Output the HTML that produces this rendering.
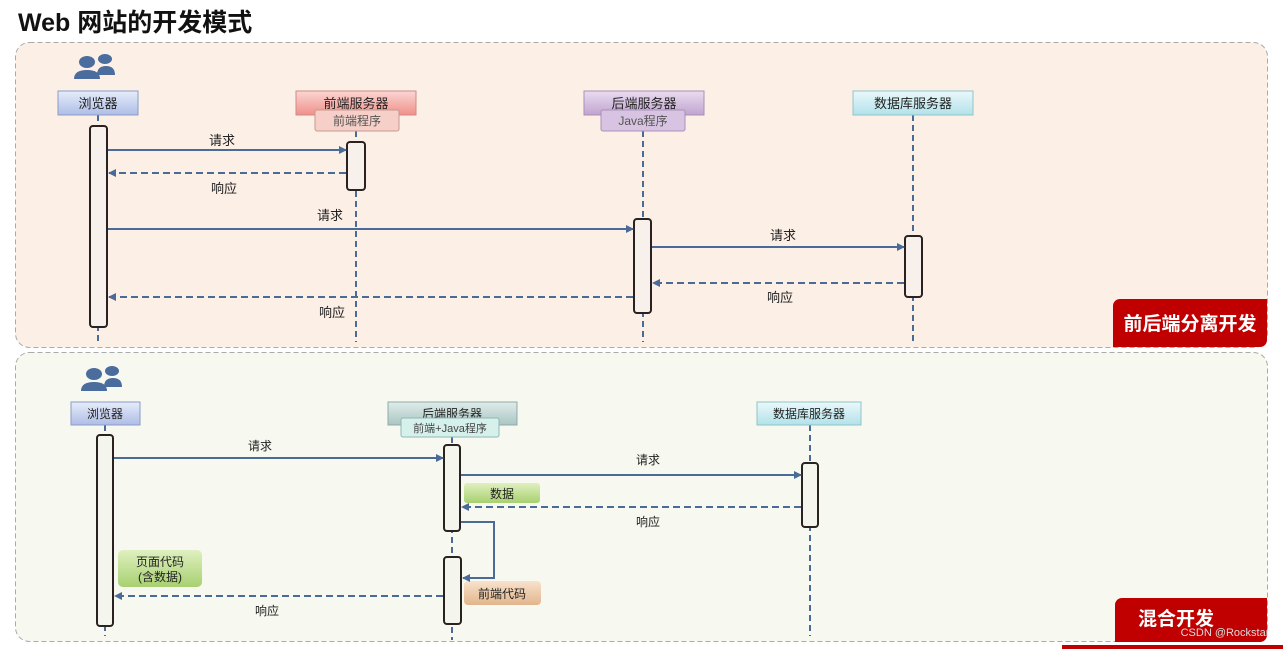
<!DOCTYPE html>
<html><head><meta charset="utf-8"><style>
html,body{margin:0;padding:0;background:#fff;}
svg{display:block;}
text{font-family:"Liberation Sans","Noto Sans CJK SC",sans-serif;fill:#222;}
</style></head><body>
<svg width="1283" height="649" viewBox="0 0 1283 649" xmlns="http://www.w3.org/2000/svg">
<defs>
<marker id="ah" markerWidth="8" markerHeight="8" refX="7" refY="4" orient="auto" markerUnits="userSpaceOnUse"><path d="M0,0 L8,4 L0,8 z" fill="#4a6a98"/></marker>
<linearGradient id="gb" x1="0" y1="0" x2="0" y2="1"><stop offset="0" stop-color="#e6ecfa"/><stop offset="1" stop-color="#aebde6"/></linearGradient>
<linearGradient id="gp" x1="0" y1="0" x2="0" y2="1"><stop offset="0" stop-color="#fbd6d3"/><stop offset="1" stop-color="#f0908a"/></linearGradient>
<linearGradient id="gv" x1="0" y1="0" x2="0" y2="1"><stop offset="0" stop-color="#eadcf0"/><stop offset="1" stop-color="#c0a4cf"/></linearGradient>
<linearGradient id="gc" x1="0" y1="0" x2="0" y2="1"><stop offset="0" stop-color="#eaf8fa"/><stop offset="1" stop-color="#b2e2ea"/></linearGradient>
<linearGradient id="gt" x1="0" y1="0" x2="0" y2="1"><stop offset="0" stop-color="#dfece9"/><stop offset="1" stop-color="#a9c6c3"/></linearGradient>
<linearGradient id="gg" x1="0" y1="0" x2="0" y2="1"><stop offset="0" stop-color="#dff0c0"/><stop offset="1" stop-color="#a8d070"/></linearGradient>
<linearGradient id="go" x1="0" y1="0" x2="0" y2="1"><stop offset="0" stop-color="#f8e2cc"/><stop offset="1" stop-color="#e2b58c"/></linearGradient>
<g id="ppl" fill="#4a6d9e"><ellipse cx="-9" cy="-6" rx="8" ry="6"/><path d="M-22,11 Q-22,2 -9,2 Q4,2 4,11 Z"/><ellipse cx="9" cy="-9" rx="7" ry="5"/><path d="M1,7 Q1,-2 10,-2 Q19,-2 19,7 Z"/></g>
</defs>
<text x="18" y="31" font-size="25" font-weight="bold" style="fill:#111">Web 网站的开发模式</text>
<rect x="15.5" y="42.5" width="1252" height="305" rx="14" fill="#fcefe6" stroke="#aaa" stroke-dasharray="5,3"/>
<rect x="15.5" y="352.5" width="1252" height="289" rx="14" fill="#f7f8ef" stroke="#aaa" stroke-dasharray="5,3"/>
<path d="M1113,347 V306 a7,7 0 0 1 7,-7 H1267 V340 a7,7 0 0 1 -7,7 Z" fill="#c00000"/>
<text x="1190" y="330" font-size="19" font-weight="bold" text-anchor="middle" style="fill:#fff">前后端分离开发</text>
<path d="M1115,642 V605 a7,7 0 0 1 7,-7 H1267 V635 a7,7 0 0 1 -7,7 Z" fill="#c00000"/>
<text x="1176" y="625" font-size="19" font-weight="bold" text-anchor="middle" style="fill:#fff">混合开发</text>
<rect x="1062" y="645" width="221" height="4" fill="#c00000"/>
<text x="1225" y="636" font-size="11" text-anchor="middle" style="fill:#ddd">CSDN @Rockstar</text>

<use href="#ppl" x="96" y="68"/>
<g stroke="#4a6a98" stroke-width="2" stroke-dasharray="6,4">
<line x1="98" y1="115" x2="98" y2="342"/><line x1="356" y1="131" x2="356" y2="342"/>
<line x1="643" y1="131" x2="643" y2="342"/><line x1="913" y1="115" x2="913" y2="342"/>
</g>
<rect x="58" y="91" width="80" height="24" fill="url(#gb)" stroke="#8a9cc8"/>
<text x="98" y="108" font-size="13" text-anchor="middle">浏览器</text>
<rect x="296" y="91" width="120" height="24" fill="url(#gp)" stroke="#d08a86"/>
<text x="356" y="108" font-size="13" text-anchor="middle">前端服务器</text>
<rect x="315" y="110" width="84" height="21" rx="2" fill="#f6d0c8" stroke="#c89890"/>
<text x="357" y="125" font-size="12" text-anchor="middle" style="fill:#555">前端程序</text>
<rect x="584" y="91" width="120" height="24" fill="url(#gv)" stroke="#a890b8"/>
<text x="644" y="108" font-size="13" text-anchor="middle">后端服务器</text>
<rect x="601" y="110" width="84" height="21" rx="2" fill="#d8c4e2" stroke="#a890b8"/>
<text x="643" y="125" font-size="12" text-anchor="middle" style="fill:#555">Java程序</text>
<rect x="853" y="91" width="120" height="24" fill="url(#gc)" stroke="#90c4cc"/>
<text x="913" y="108" font-size="13" text-anchor="middle">数据库服务器</text>
<g fill="#f8f0ea" stroke="#2a2220" stroke-width="2">
<rect x="90" y="126" width="17" height="201" rx="3"/><rect x="347" y="142" width="18" height="48" rx="3"/>
<rect x="634" y="219" width="17" height="94" rx="3"/><rect x="905" y="236" width="17" height="61" rx="3"/>
</g>
<g stroke="#4a6a98" stroke-width="2" fill="none">
<line x1="108" y1="150" x2="346" y2="150" marker-end="url(#ah)"/>
<line x1="346" y1="173" x2="109" y2="173" stroke-dasharray="7,4" marker-end="url(#ah)"/>
<line x1="108" y1="229" x2="633" y2="229" marker-end="url(#ah)"/>
<line x1="652" y1="247" x2="904" y2="247" marker-end="url(#ah)"/>
<line x1="904" y1="283" x2="653" y2="283" stroke-dasharray="7,4" marker-end="url(#ah)"/>
<line x1="633" y1="297" x2="109" y2="297" stroke-dasharray="7,4" marker-end="url(#ah)"/>
</g>
<g font-size="13" text-anchor="middle">
<text x="222" y="145">请求</text><text x="224" y="193">响应</text><text x="330" y="220">请求</text>
<text x="783" y="240">请求</text><text x="780" y="302">响应</text><text x="332" y="317">响应</text>
</g>

<use href="#ppl" x="103" y="380"/>
<g stroke="#4a6a98" stroke-width="2" stroke-dasharray="6,4">
<line x1="105" y1="425" x2="105" y2="636"/><line x1="452" y1="437" x2="452" y2="640"/>
<line x1="810" y1="425" x2="810" y2="636"/>
</g>
<rect x="71" y="402" width="69" height="23" fill="url(#gb)" stroke="#8a9cc8"/>
<text x="105" y="418" font-size="12" text-anchor="middle">浏览器</text>
<rect x="388" y="402" width="129" height="23" fill="url(#gt)" stroke="#90aaa8"/>
<text x="452" y="418" font-size="12" text-anchor="middle">后端服务器</text>
<rect x="401" y="418" width="98" height="19" rx="2" fill="#d6f0ec" stroke="#90b8b4"/>
<text x="450" y="432" font-size="11" text-anchor="middle" style="fill:#444">前端+Java程序</text>
<rect x="757" y="402" width="104" height="23" fill="url(#gc)" stroke="#90c4cc"/>
<text x="809" y="418" font-size="12" text-anchor="middle">数据库服务器</text>
<g fill="#f4f5ec" stroke="#2a2220" stroke-width="2">
<rect x="97" y="435" width="16" height="191" rx="3"/><rect x="444" y="445" width="16" height="86" rx="3"/>
<rect x="444" y="557" width="17" height="67" rx="3"/><rect x="802" y="463" width="16" height="64" rx="3"/>
</g>
<rect x="464" y="483" width="76" height="20" rx="3" fill="url(#gg)"/>
<text x="502" y="498" font-size="12" text-anchor="middle">数据</text>
<rect x="464" y="581" width="77" height="24" rx="4" fill="url(#go)"/>
<text x="502" y="598" font-size="12" text-anchor="middle">前端代码</text>
<rect x="118" y="550" width="84" height="37" rx="5" fill="url(#gg)"/>
<text x="160" y="566" font-size="12" text-anchor="middle">页面代码</text>
<text x="160" y="581" font-size="12" text-anchor="middle">(含数据)</text>
<g stroke="#4a6a98" stroke-width="2" fill="none">
<line x1="114" y1="458" x2="443" y2="458" marker-end="url(#ah)"/>
<line x1="461" y1="475" x2="801" y2="475" marker-end="url(#ah)"/>
<line x1="801" y1="507" x2="462" y2="507" stroke-dasharray="7,4" marker-end="url(#ah)"/>
<polyline points="461,522 494,522 494,578 463,578" marker-end="url(#ah)"/>
<line x1="443" y1="596" x2="115" y2="596" stroke-dasharray="7,4" marker-end="url(#ah)"/>
</g>
<g font-size="12" text-anchor="middle">
<text x="260" y="450">请求</text><text x="648" y="464">请求</text><text x="648" y="526">响应</text><text x="267" y="615">响应</text>
</g>
</svg>
</body></html>
